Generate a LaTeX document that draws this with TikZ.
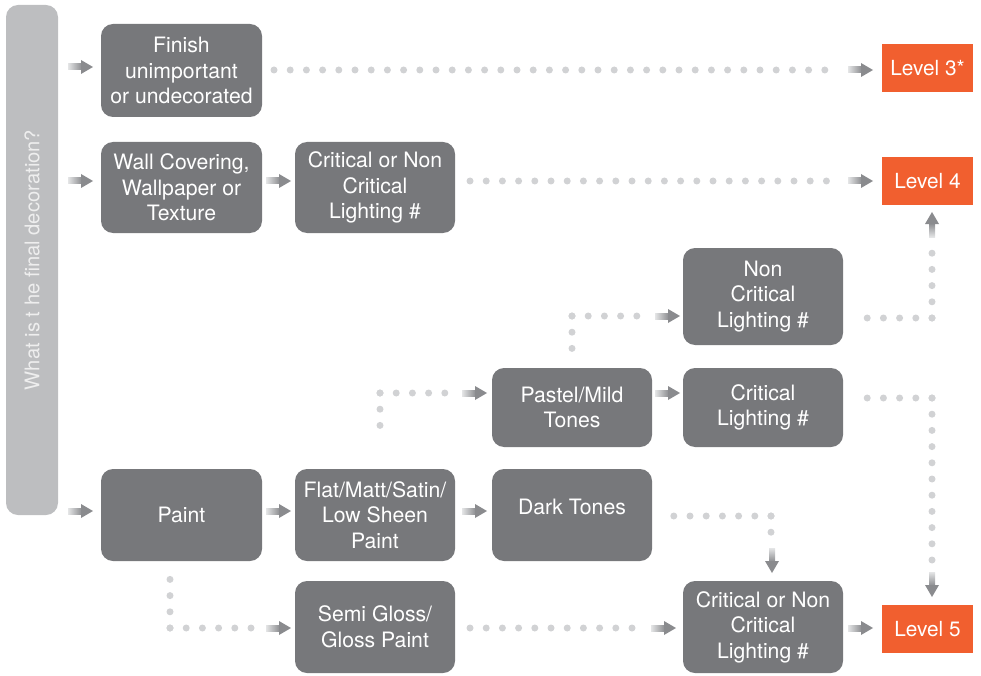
\documentclass[tikz,border=0pt]{standalone}
\usepackage{fontspec}
\setmainfont{TeX Gyre Heros}
\usetikzlibrary{calc}
\definecolor{boxgray}{HTML}{77787B}
\definecolor{bargray}{HTML}{BDBEC0}
\definecolor{bartext}{HTML}{EEEEEE}
\definecolor{dotgray}{HTML}{D1D2D4}
\definecolor{lvl}{HTML}{F15F2F}
\definecolor{arrdark}{HTML}{8A8B8E}
\definecolor{arrlight}{HTML}{E4E5E6}
\tikzset{
  box/.style={fill=boxgray, rounded corners=12pt, text=white, align=center, minimum width=161pt, inner sep=0pt, font=\fontsize{21.2}{25.5}\selectfont},
  lvlbox/.style={fill=lvl, text=white, minimum width=91pt, minimum height=48pt, inner sep=0pt, font=\fontsize{20.8}{24}\selectfont},
  dots/.style={draw=dotgray, line width=7pt, line cap=round, dash pattern=on 0pt off 16.2pt},
  garrR/.pic={\shade[left color=arrlight,right color=arrdark] (0,-3) rectangle (14,3);
              \fill[arrdark] (13,-7) -- (25,0) -- (13,7) -- cycle;},
  garrD/.pic={\shade[top color=arrlight,bottom color=arrdark] (-3,0) rectangle (3,-14);
              \fill[arrdark] (-7,-13) -- (0,-25) -- (7,-13) -- cycle;},
  garrU/.pic={\shade[bottom color=arrlight,top color=arrdark] (-3,0) rectangle (3,14);
              \fill[arrdark] (-7,13) -- (0,25) -- (7,13) -- cycle;},
}
\begin{document}
\begin{tikzpicture}[x=1pt,y=1pt]
\useasboundingbox (0,0) rectangle (981,-676);
% question bar
\node[fill=bargray, rounded corners=12pt, minimum width=510pt, minimum height=52pt, inner sep=0pt,
      rotate=90, text=bartext, font=\fontsize{20.2}{23}\selectfont] (bar) at (32,-260) {What is t he final decoration?};
% boxes
\node[box, minimum height=93pt] (finish) at (181.5,-70.5) {Finish\\unimportant\\or undecorated};
\node[box, minimum height=91pt] (wall) at (181.5,-187.5) {Wall Covering,\\Wallpaper or\\Texture};
\node[box, minimum width=160pt, minimum height=91pt] (crit1) at (375,-187.5) {Critical or Non\\Critical\\Lighting \#};
\node[box, minimum width=160pt, minimum height=97pt] (noncrit) at (763,-296.5) {Non\\Critical\\Lighting \#};
\node[box, minimum width=160pt, minimum height=79pt] (pastel) at (572,-407.5) {Pastel/Mild\\Tones};
\node[box, minimum width=160pt, minimum height=79pt] (critl) at (763,-407.5) {Critical\\Lighting \#};
\node[box, minimum height=92pt] (paint) at (181.5,-515) {Paint};
\node[box, minimum width=160pt, minimum height=92pt] (flat) at (375,-515) {Flat/Matt/Satin/\\Low Sheen\\Paint};
\node[box, minimum width=160pt, minimum height=92pt, text depth=20pt, text height=18pt] (dark) at (572,-515) {Dark Tones};
\node[box, minimum width=160pt, minimum height=92pt] (semi) at (375,-627) {Semi Gloss/\\Gloss Paint};
\node[box, minimum width=160pt, minimum height=92pt] (critb) at (763,-627) {Critical or Non\\Critical\\Lighting \#};
\node[lvlbox] (l3) at (927.5,-68) {Level 3*};
\node[lvlbox] (l4) at (927.5,-181) {Level 4};
\node[lvlbox] (l5) at (927.5,-629) {Level 5};
% dotted connectors
\draw[dots] (274,-70) -- (840,-70);
\draw[dots] (470,-181) -- (840,-181);
\draw[dots] (932,-318) -- (855,-318);
\draw[dots] (932,-318) -- (932,-245);
\draw[dots] (932,-398) -- (856,-398);
\draw[dots] (932,-398) -- (932,-565);
\draw[dots] (572,-316) -- (650,-316);
\draw[dots] (572,-316) -- (572,-350);
\draw[dots] (380,-393) -- (452,-393);
\draw[dots] (380,-393) -- (380,-428);
\draw[dots] (771,-516) -- (660,-516);
\draw[dots] (771,-516) -- (771,-545);
\draw[dots] (170,-628) -- (258,-628);
\draw[dots] (170,-628) -- (170,-572);
\draw[dots] (470,-628) -- (644,-628);
% arrows
\pic at (68,-67) {garrR};
\pic at (68,-181) {garrR};
\pic at (68,-511) {garrR};
\pic at (266,-181) {garrR};
\pic at (266,-511) {garrR};
\pic at (462,-511) {garrR};
\pic at (462,-393) {garrR};
\pic at (655,-393) {garrR};
\pic at (655,-316) {garrR};
\pic at (848,-70) {garrR};
\pic at (848,-181) {garrR};
\pic at (266,-628) {garrR};
\pic at (651,-628) {garrR};
\pic at (848,-628) {garrR};
\pic at (932,-237) {garrU};
\pic at (772,-548) {garrD};
\pic at (932,-572) {garrD};
\end{tikzpicture}
\end{document}
